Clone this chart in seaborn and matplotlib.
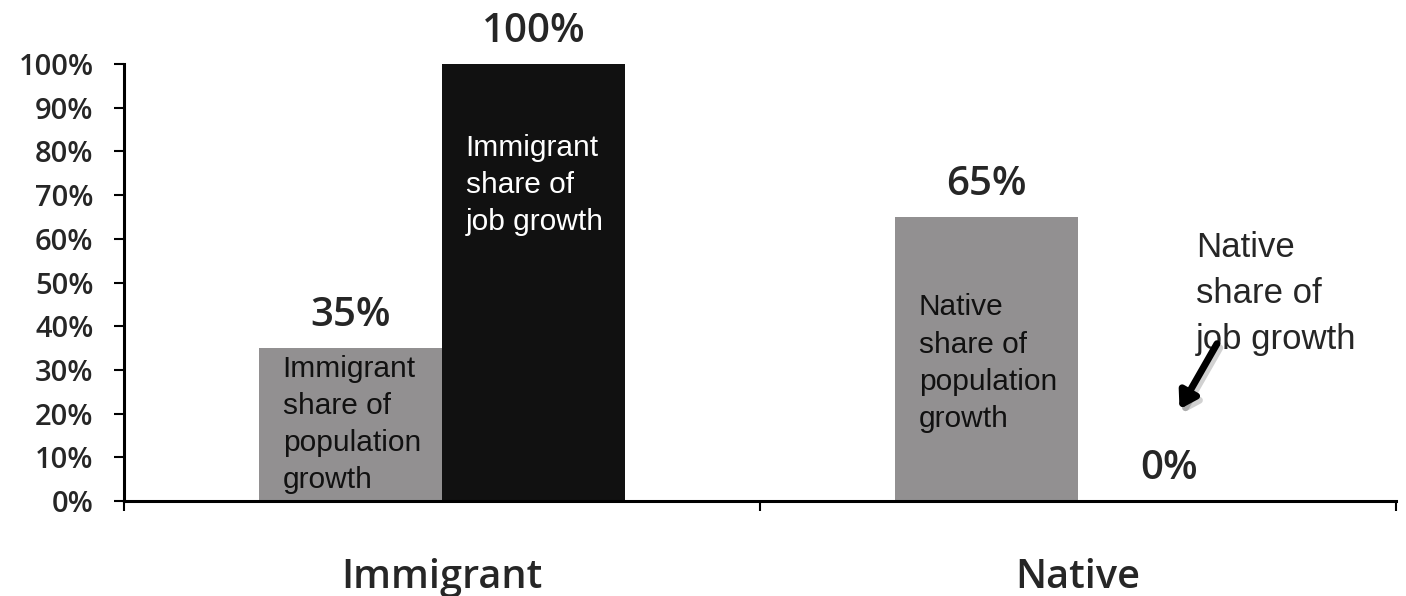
import matplotlib
matplotlib.use("Agg")
import matplotlib.pyplot as plt
import matplotlib.patheffects as pe
import seaborn as sns
import pandas as pd

groups = ["Immigrant", "Native"]
measures = ["Share of population growth", "Share of job growth"]
pop_share = [35, 65]
job_share = [100, 0]
y_ticks = [0, 10, 20, 30, 40, 50, 60, 70, 80, 90, 100]
bar_notes = {
    ("Immigrant", "Share of population growth"): "Immigrant\nshare of\npopulation\ngrowth",
    ("Immigrant", "Share of job growth"): "Immigrant\nshare of\njob growth",
    ("Native", "Share of population growth"): "Native\nshare of\npopulation\ngrowth",
}
callout_note = "Native\nshare of\njob growth"
bar_colors = ["#929091", "#111111"]
note_colors = ["#111111", "white"]

df = pd.DataFrame({
    "group": groups * 2,
    "measure": [measures[0]] * 2 + [measures[1]] * 2,
    "share": pop_share + job_share,
})

sns.set_theme(style="white")
plt.rcParams["font.family"] = ["Open Sans", "DejaVu Sans"]
note_font = ["Liberation Sans", "DejaVu Sans"]

fig = plt.figure(figsize=(14.06, 5.96), dpi=100)
ax = fig.add_axes([0.0882, 0.1594, 0.9046, 0.7332])

bar_width = 0.575
sns.barplot(data=df, x="group", y="share", hue="measure", order=groups,
            hue_order=measures, palette=bar_colors,
            width=bar_width, saturation=1, ax=ax, legend=False,
            errorbar=None, linewidth=0)

ax.set_xlim(-0.5, 1.5)
ax.set_ylim(0, 100)
ax.set_xlabel("")
ax.set_ylabel("")

for side in ("top", "right"):
    ax.spines[side].set_visible(False)
for side in ("left", "bottom"):
    ax.spines[side].set_linewidth(2.2)
    ax.spines[side].set_color("black")

ax.set_yticks(y_ticks)
ax.set_yticklabels([f"{t}%" for t in y_ticks], fontsize=21, fontweight="semibold")
ax.tick_params(axis="y", direction="out", length=7, width=1.5, pad=15,
               color="black", left=True)

ax.set_xticks(range(len(groups)))
ax.set_xticklabels(groups, fontsize=28.5, fontweight="semibold")
ax.set_xticks([-0.5, 0.5, 1.5], minor=True)
ax.tick_params(axis="x", which="major", length=0, pad=41)
ax.tick_params(axis="x", which="minor", direction="out", length=7, width=1.5,
               color="black", bottom=True)

# value labels above each bar, and notes inside the bars
for mi, container in enumerate(ax.containers):
    for gi, patch in enumerate(container.patches):
        value = patch.get_height()
        cx = patch.get_x() + patch.get_width() / 2
        ax.annotate(f"{value:.0f}%", (cx, value), xytext=(0, 23),
                    textcoords="offset points", ha="center", va="center",
                    fontsize=29, fontweight="semibold", annotation_clip=False)
        note = bar_notes.get((groups[gi], measures[mi]))
        if note:
            if value >= 90:
                top = value - 16
            elif groups[gi] == "Native":
                top = value - 17.5
            else:
                top = value - 1.5
            ax.text(patch.get_x() + 0.037, top, note, ha="left", va="top",
                    fontsize=21.5, family=note_font, linespacing=1.42,
                    color=note_colors[mi])

# callout for the empty native job-growth bar
empty_bar = ax.containers[1].patches[1]
ex = empty_bar.get_x() + empty_bar.get_width() / 2
ax.text(ex + 0.042, 61.8, callout_note, ha="left", va="top", fontsize=25,
        family=note_font, linespacing=1.5)
ax.annotate("", xy=(ex + 0.016, 21), xytext=(ex + 0.075, 36),
            arrowprops=dict(arrowstyle="-|>,head_length=0.8,head_width=0.5",
                            lw=5, color="black", shrinkA=0, shrinkB=0,
                            path_effects=[pe.SimpleLineShadow(offset=(2, -3), alpha=0.2),
                                          pe.Normal()]))

fig.savefig("out.png", dpi=100)
